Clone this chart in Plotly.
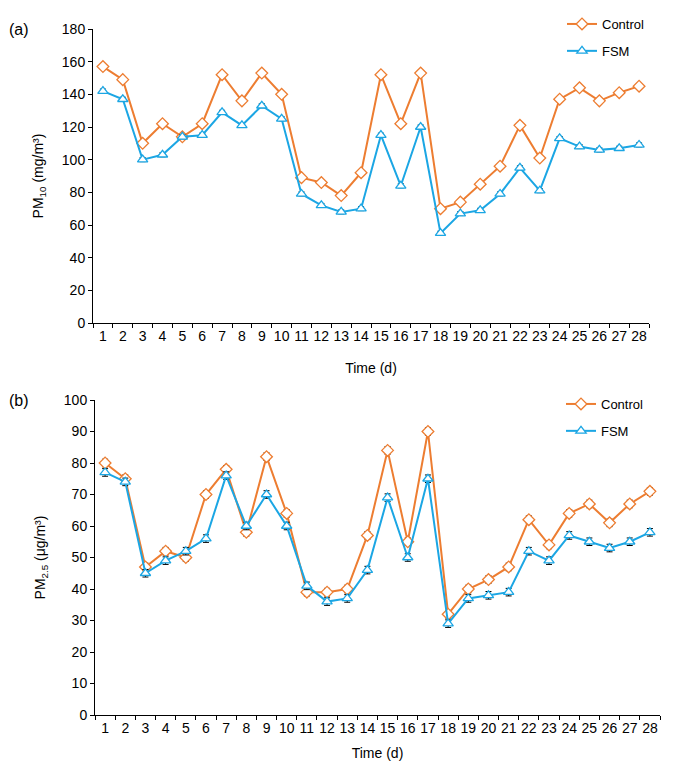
import plotly.graph_objects as go

days = [str(i) for i in range(1, 29)]

pm10_control = [157, 149, 110, 122, 114, 122, 152, 136, 153, 140, 89, 86, 78, 92,
                152, 122, 153, 70, 74, 85, 96, 121, 101, 137, 144, 136, 141, 145]
pm10_fsm = [142, 137, 100, 103, 114, 115, 129, 121, 133, 125, 79, 72, 68, 70,
            115, 84, 120, 55, 67, 69, 79, 95, 81, 113, 108, 106, 107, 109]

pm25_control = [80, 75, 47, 52, 50, 70, 78, 58, 82, 64, 39, 39, 40, 57,
                84, 55, 90, 32, 40, 43, 47, 62, 54, 64, 67, 61, 67, 71]
pm25_fsm = [77, 74, 45, 49, 52, 56, 76, 60, 70, 60, 41, 36, 37, 46,
            69, 50, 75, 29, 37, 38, 39, 52, 49, 57, 55, 53, 55, 58]

ORANGE = "#ED7D31"
BLUE = "#1BA6E4"
FONT = "Liberation Sans"

# page has an 8px body margin; figure sized to fit the window
OFF = 8
W = 690 - OFF
H = 773 - OFF


def px(x):
    return (x - OFF) / W


def py(y):
    return 1 - (y - OFF) / H


fig = go.Figure()


def add_series(x, y, name, color, symbol, xa, ya, legend, group):
    fig.add_trace(go.Scatter(
        x=x, y=y, name=name, mode="lines+markers",
        line=dict(color=color, width=2),
        marker=dict(symbol=symbol, size=9, color="white",
                    line=dict(color=color, width=1.3)),
        error_y=dict(type="constant", value=1.2, color="black", thickness=1, width=3),
        xaxis=xa, yaxis=ya, legend=legend, legendgroup=group))


add_series(days, pm10_control, "Control", ORANGE, "diamond", "x", "y", "legend", "a1")
add_series(days, pm10_fsm, "FSM", BLUE, "triangle-up", "x", "y", "legend", "a2")
add_series(days, pm25_control, "Control", ORANGE, "diamond", "x2", "y2", "legend2", "b1")
add_series(days, pm25_fsm, "FSM", BLUE, "triangle-up", "x2", "y2", "legend2", "b2")

tfont = dict(family=FONT, size=14, color="black")
axis_common = dict(showgrid=False, zeroline=False, showline=True, linecolor="black",
                   linewidth=1, ticks="outside", tickcolor="black", ticklen=4,
                   tickfont=tfont, automargin=False)

fig.update_layout(
    width=W, height=H,
    margin=dict(l=0, r=0, t=0, b=0, autoexpand=False),
    paper_bgcolor="white", plot_bgcolor="white",
    font=dict(family=FONT, size=13, color="black"),
    xaxis=dict(**axis_common, type="category", tickson="boundaries",
               range=[-0.5, 27.5], tickangle=0,
               domain=[px(93), px(649)], anchor="y",
               title=dict(text="Time (d)", font=tfont, standoff=20)),
    yaxis=dict(**axis_common, range=[0, 180], dtick=20, domain=[py(323), py(29)],
               anchor="x",
               title=dict(text="PM<sub>10</sub> (mg/m³)", font=tfont, standoff=14)),
    xaxis2=dict(**axis_common, type="category", tickson="boundaries",
                range=[-0.5, 27.5], tickangle=0,
                domain=[px(95), px(660)], anchor="y2",
                title=dict(text="Time (d)", font=tfont, standoff=13)),
    yaxis2=dict(**axis_common, range=[0, 100], dtick=10, domain=[py(715), py(400)],
                anchor="x2",
                title=dict(text="PM<sub>2.5</sub> (μg/m³)", font=tfont, standoff=14)),
    legend=dict(x=px(562), y=py(9), xanchor="left", yanchor="top",
                bgcolor="rgba(0,0,0,0)", font=dict(family=FONT, size=13),
                tracegroupgap=7, itemwidth=30),
    legend2=dict(x=px(561), y=py(389), xanchor="left", yanchor="top",
                 bgcolor="rgba(0,0,0,0)", font=dict(family=FONT, size=13),
                 tracegroupgap=7, itemwidth=30),
    annotations=[
        dict(text="(a)", x=px(7), y=py(29), xref="paper", yref="paper",
             xanchor="left", yanchor="middle", showarrow=False,
             font=dict(family=FONT, size=16)),
        dict(text="(b)", x=px(7), y=py(401), xref="paper", yref="paper",
             xanchor="left", yanchor="middle", showarrow=False,
             font=dict(family=FONT, size=16)),
    ],
)

fig.write_html("out.html")
